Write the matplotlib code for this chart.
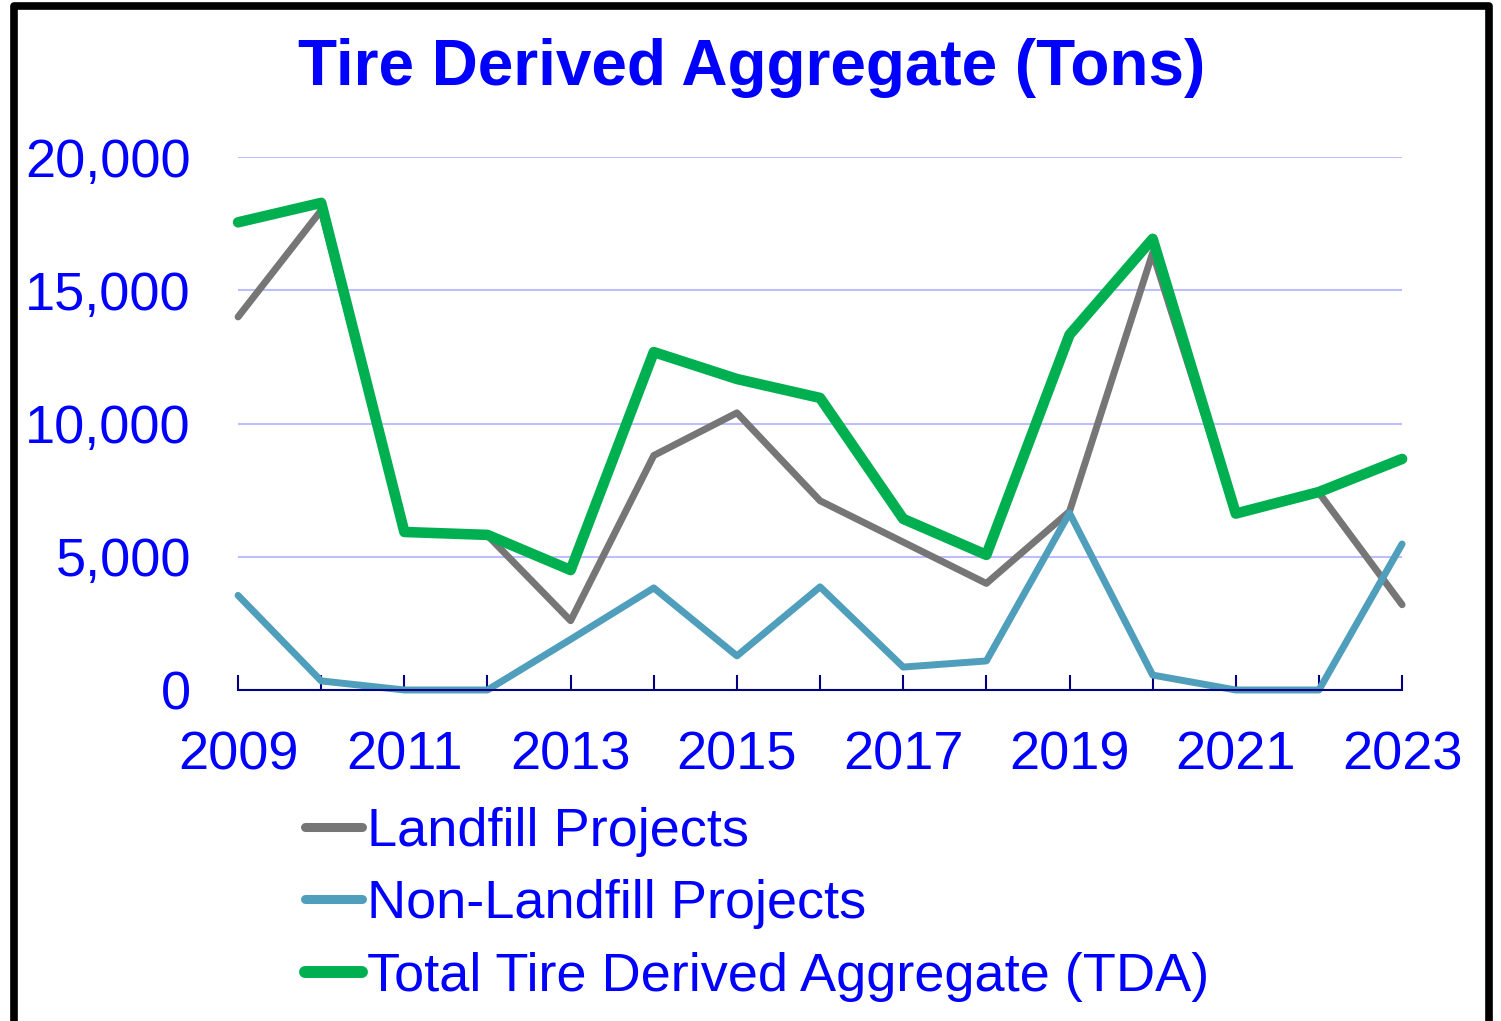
import matplotlib.pyplot as plt
from matplotlib.patches import Rectangle
from matplotlib.ticker import FuncFormatter, MultipleLocator

plt.rcParams['font.family'] = ['Liberation Sans', 'DejaVu Sans']

years = list(range(2009, 2024))
landfill = [14000, 18000, 5900, 5800, 2600, 8800, 10400, 7100, 5550, 4000,
            6700, 16400, 6600, 7400, 3200]
non_landfill = [3550, 340, 0, 0, 1900, 3830, 1280, 3870, 860, 1090,
                6640, 560, 0, 0, 5480]
total = [17550, 18280, 5930, 5820, 4500, 12680, 11670, 10960, 6420, 5070,
         13330, 16930, 6620, 7430, 8670]

blue = '#0000FF'
navy = '#000080'

fig = plt.figure(figsize=(15.01, 10.21), dpi=100)
ax = fig.add_axes([0.1586, 0.3242, 0.7755, 0.522])

ax.plot(years, landfill, color='#767676', lw=5.0, solid_capstyle='round',
        solid_joinstyle='round', label='Landfill Projects', clip_on=False)
ax.plot(years, non_landfill, color='#4F9EBB', lw=5.0, solid_capstyle='round',
        solid_joinstyle='round', label='Non-Landfill Projects', clip_on=False)
ax.plot(years, total, color='#00B050', lw=7.6, solid_capstyle='round',
        solid_joinstyle='round', label='Total Tire Derived Aggregate (TDA)', clip_on=False)

ax.set_xlim(2009, 2023)
ax.set_ylim(0, 20000)
ax.yaxis.set_major_locator(MultipleLocator(5000))
ax.yaxis.set_major_formatter(FuncFormatter(lambda v, p: f'{int(v):,}'))
ax.set_xticks(years[::2])
ax.set_xticks(years, minor=True)
ax.xaxis.set_major_formatter(FuncFormatter(lambda v, p: f'{int(v)}'))

for s in ['top', 'right', 'left']:
    ax.spines[s].set_visible(False)
ax.spines['bottom'].set_color(navy)
ax.spines['bottom'].set_linewidth(1.5)
ax.grid(axis='y', color='#BDBDFF', lw=1.5)
ax.set_axisbelow(True)

ax.tick_params(axis='y', length=0, pad=34, labelsize=39, labelcolor=blue)
ax.tick_params(axis='x', which='both', direction='in', length=11, width=1.5,
               color=navy, labelsize=39, labelcolor=blue, pad=29)

fig.text(0.501, 0.933, 'Tire Derived Aggregate (Tons)', ha='center', va='center',
         fontsize=46, fontweight='bold', color=blue)

leg = ax.legend(loc='upper left', bbox_to_anchor=(0.203, 0.21), bbox_transform=fig.transFigure,
                frameon=False, fontsize=39, handlelength=1.05, handletextpad=0.1,
                labelspacing=0.42, borderpad=0, borderaxespad=0)
for t in leg.get_texts():
    t.set_color(blue)
for ln, w in zip(leg.get_lines(), [6.5, 6.5, 8.6]):
    ln.set_linewidth(w)

fig.patches.append(Rectangle((14 / 1501, -0.05), (1489 - 14) / 1501, 1.05 - 6.5 / 1021,
                             transform=fig.transFigure, fill=False, edgecolor='black',
                             lw=5.5, joinstyle='round'))

fig.savefig('out.png', dpi=100)
